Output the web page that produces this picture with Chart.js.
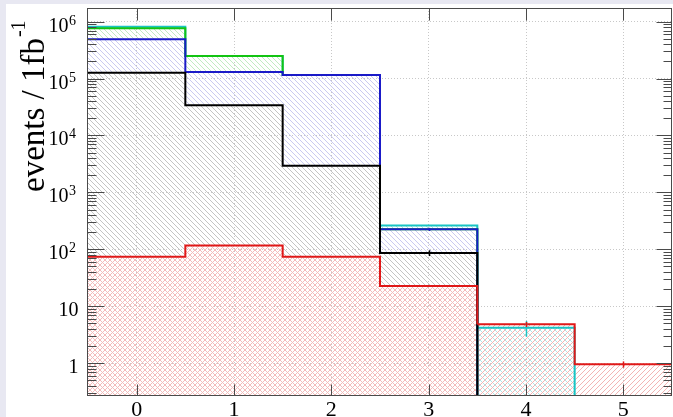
<!DOCTYPE html>
<html>
<head>
<meta charset="utf-8">
<script src="https://cdn.jsdelivr.net/npm/chart.js@4/dist/chart.umd.min.js"></script>
<style>
  html, body { margin: 0; padding: 0; background: #e8e8f2; overflow: hidden; }
  #wrap { position: relative; width: 673px; height: 417px; }
</style>
</head>
<body>
<div id="wrap"><canvas id="c" width="673" height="417"></canvas></div>
<script>
// Multiplicity bins (centres); each bin is one unit wide
const binCentres = [0, 1, 2, 3, 4, 5];

// Drawn level of each histogram per bin, events / 1 fb^-1 (0 = empty bin)
const bkgBlack  = [1.27e5, 3.4e4, 2.95e3, 86, 0, 0];
const bkgBlue   = [4.9e5, 1.31e5, 1.16e5, 224, 0, 0];
const bkgGreen  = [7.66e5, 2.5e5, 1.16e5, 224, 0, 0];
const bkgCyan   = [8.17e5, 2.5e5, 1.16e5, 262, 4.2, 0];
const signalRed = [74, 116, 74, 22.6, 4.8, 0.95];

// Statistical uncertainties, drawn as bars at the bin centres
const errBlack = [0, 0, 0, 10, 0, 0];
const errBlue  = [0, 0, 0, 14, 0, 0];
const errCyan  = [0, 0, 0, 0, 1.3, 0];
const errRed   = [0, 0, 0, 0, 0.5, 0.12];

// Axis ticks
const xTickValues = [0, 1, 2, 3, 4, 5];
const xTickLabels = ['0', '1', '2', '3', '4', '5'];
const yTickValues = [1, 10, 1e2, 1e3, 1e4, 1e5, 1e6];
const yTickBase   = ['1', '10', '10', '10', '10', '10', '10'];
const yTickExp    = ['', '', '2', '3', '4', '5', '6'];

const X_MIN = -0.5, X_MAX = 5.5;
const Y_MIN = 0.264, Y_MAX = 1.74e6;
const EMPTY = 1e-3;          // empty bins are drawn below the axis floor
const FRAME = '#4a4a4a';
const SERIF = '"Liberation Serif", "Times New Roman", serif';

// Step outline points at the bin edges (last edge repeats the last bin)
function stepPoints(vals) {
  const pts = vals.map((v, i) => ({ x: binCentres[i] - 0.5, y: v > 0 ? v : EMPTY }));
  const last = vals.length - 1;
  pts.push({ x: binCentres[last] + 0.5, y: pts[last].y });
  return pts;
}

// Diagonal hatch pattern (5 px line spacing), anchored to the canvas origin
// so that every hatch lines up with the others
function hatch(color, dirs, bg) {
  const s = 10, gap = 5;
  const c = document.createElement('canvas');
  c.width = s; c.height = s;
  const g = c.getContext('2d');
  if (bg) { g.fillStyle = bg; g.fillRect(0, 0, s, s); }
  g.strokeStyle = color;
  g.lineWidth = 1;
  for (const d of dirs) {
    for (let o = -s; o <= s; o += gap) {
      g.beginPath();
      if (d === '\\') { g.moveTo(o - 1, -1); g.lineTo(o + s + 1, s + 1); }
      else { g.moveTo(o - 1, s + 1); g.lineTo(o + s + 1, -1); }
      g.stroke();
    }
  }
  return document.getElementById('c').getContext('2d').createPattern(c, 'repeat');
}

const patBlack = hatch('#c4c4c4', ['\\']);
const patBlue  = hatch('#cacaf0', ['\\']);
const patGreen = hatch('#c2eac2', ['\\']);
const patCyan  = hatch('#ade6e6', ['\\']);
const patRedX  = hatch('#f3bcbc', ['\\', '/']);
const patRed   = hatch('#f3b4b4', ['/']);

function histo(label, vals, color, pattern, extra) {
  return Object.assign({
    label,
    data: stepPoints(vals),
    borderColor: color,
    borderWidth: 2,
    backgroundColor: pattern,
    fill: 'start',
    stepped: 'before',
    pointRadius: 0,
    pointHoverRadius: 0,
    tension: 0
  }, extra || {});
}

const errorSets = [
  { vals: bkgCyan, err: errCyan, color: '#19c4c4' },
  { vals: bkgBlue, err: errBlue, color: '#1a1ac8' },
  { vals: bkgBlack, err: errBlack, color: '#000000' },
  { vals: signalRed, err: errRed, color: '#e01818' }
];

const decorations = {
  id: 'decorations',
  beforeDraw(chart) {
    const { ctx, width, height } = chart;
    ctx.save();
    ctx.fillStyle = '#e8e8f2';
    ctx.fillRect(0, 0, width, height);
    ctx.fillStyle = '#ffffff';
    ctx.fillRect(6, 4, width - 6, height - 4);
    ctx.restore();
  },
  afterDatasetsDraw(chart) {
    const { ctx, chartArea: a, scales: { x, y } } = chart;
    ctx.save();

    // error bars
    ctx.lineWidth = 1.5;
    for (const s of errorSets) {
      ctx.strokeStyle = s.color;
      s.err.forEach((e, i) => {
        if (!e || !(s.vals[i] > 0)) return;
        const px = Math.round(x.getPixelForValue(binCentres[i])) + 0.5;
        const lo = Math.max(s.vals[i] - e, Y_MIN);
        ctx.beginPath();
        ctx.moveTo(px, y.getPixelForValue(s.vals[i] + e));
        ctx.lineTo(px, y.getPixelForValue(lo));
        ctx.stroke();
      });
    }

    // frame
    const L = Math.round(a.left) - 0.5, R = Math.round(a.right) - 0.5;
    const T = Math.round(a.top) + 0.5, B = Math.round(a.bottom) - 0.5;
    ctx.strokeStyle = FRAME;
    ctx.lineWidth = 1;
    ctx.strokeRect(L, T, R - L, B - T);

    // inward ticks
    ctx.beginPath();
    xTickValues.forEach(v => {
      const px = Math.round(x.getPixelForValue(v)) + 0.5;
      ctx.moveTo(px, B); ctx.lineTo(px, B - 11);
      ctx.moveTo(px, T); ctx.lineTo(px, T + 12);
    });
    for (let d = -1; d <= 6; d++) {
      for (let m = 1; m <= 9; m++) {
        const v = m * Math.pow(10, d);
        if (v < Y_MIN || v > Y_MAX) continue;
        const py = Math.round(y.getPixelForValue(v)) + 0.5;
        const major = m === 1;
        ctx.moveTo(L, py); ctx.lineTo(L + (major ? 17 : 9), py);
        ctx.moveTo(R, py); ctx.lineTo(R - (major ? 15 : 8), py);
      }
    }
    ctx.stroke();

    // y tick labels with superscript exponents
    ctx.fillStyle = '#000';
    ctx.textBaseline = 'alphabetic';
    yTickValues.forEach((v, i) => {
      const py = y.getPixelForValue(v);
      if (yTickExp[i]) {
        ctx.font = '20px ' + SERIF;
        ctx.textAlign = 'right';
        ctx.fillText(yTickBase[i], 68.5, py + 10);
        ctx.font = '14px ' + SERIF;
        ctx.textAlign = 'left';
        ctx.fillText(yTickExp[i], 69, py + 3);
      } else {
        ctx.font = '20px ' + SERIF;
        ctx.textAlign = 'right';
        ctx.fillText(yTickBase[i], 78.5, py + 9.5);
      }
    });

    // x tick labels
    ctx.font = '22px ' + SERIF;
    ctx.textAlign = 'center';
    xTickValues.forEach((v, i) => {
      ctx.fillText(xTickLabels[i], x.getPixelForValue(v), 416);
    });

    // y axis title
    ctx.translate(44, 192);
    ctx.rotate(-Math.PI / 2);
    ctx.textAlign = 'left';
    ctx.font = '33px ' + SERIF;
    const main = 'events / 1fb';
    ctx.fillText(main, 0, 0);
    const w = ctx.measureText(main).width;
    ctx.font = '20px ' + SERIF;
    ctx.fillText('-1', w + 1, -19);

    ctx.restore();
  }
};

new Chart(document.getElementById('c'), {
  type: 'line',
  data: {
    datasets: [
      histo('signal', signalRed, '#e01818', patRedX, {
        segment: { backgroundColor: c => (c.p0DataIndex >= 4 ? patRed : undefined) }
      }),
      histo('background 1', bkgBlack, '#000000', patBlack),
      histo('background 2', bkgBlue, '#1a1ac8', patBlue),
      histo('background 3', bkgGreen, '#12c412', patGreen),
      histo('background 4', bkgCyan, '#19c4c4', patCyan)
    ]
  },
  options: {
    responsive: false,
    animation: false,
    events: [],
    layout: { padding: { left: 88, top: 8, right: 1, bottom: 21 } },
    plugins: {
      legend: { display: false },
      tooltip: { enabled: false },
      filler: { drawTime: 'beforeDatasetsDraw' }   // all hatches first, outlines on top
    },
    scales: {
      x: {
        type: 'linear',
        min: X_MIN,
        max: X_MAX,
        afterBuildTicks: s => { s.ticks = xTickValues.map(v => ({ value: v })); },
        ticks: { display: false },
        grid: { color: '#c8c8c8', lineWidth: 1, drawTicks: false },
        border: { display: false, dash: [1, 2] }
      },
      y: {
        type: 'logarithmic',
        min: Y_MIN,
        max: Y_MAX,
        afterBuildTicks: s => { s.ticks = yTickValues.map(v => ({ value: v })); },
        ticks: { display: false },
        grid: { color: '#c8c8c8', lineWidth: 1, drawTicks: false },
        border: { display: false, dash: [1, 2] }
      }
    }
  },
  plugins: [decorations]
});
</script>
</body>
</html>
